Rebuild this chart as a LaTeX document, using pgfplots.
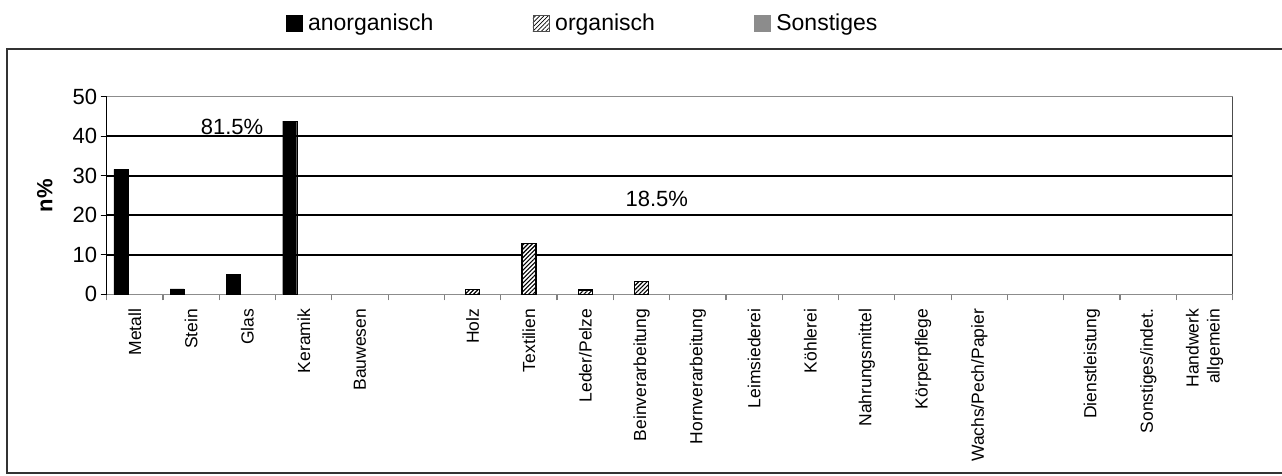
\documentclass[border=0pt]{standalone}
\usepackage{fontspec}
\setmainfont{Liberation Sans}
\usepackage{pgfplots}
\pgfplotsset{compat=1.18}
\usetikzlibrary{patterns.meta}

\begin{document}
\begin{tikzpicture}[x=1pt,y=1pt]
\useasboundingbox (0,0) rectangle (1282,475);
\draw[line width=2pt, black!80] (7.3,426) rectangle (1300,2.5);
\begin{axis}[
  at={(106.7pt,180.7pt)}, anchor=south west,
  width=1126pt, height=197.6pt, scale only axis,
  xmin=-0.5, xmax=19.5, ymin=0, ymax=50,
  axis x line*=bottom, axis y line*=left,
  x axis line style={black!45, line width=1.5pt},
  y axis line style={black, line width=1.5pt},
  xtick={0,...,19},
  xticklabels={Metall,Stein,Glas,Keramik,Bauwesen,{},Holz,Textilien,Leder/Pelze,Beinverarbeitung,Hornverarbeitung,Leimsiederei,K\"ohlerei,Nahrungsmittel,K\"orperpflege,Wachs/Pech/Papier,{},Dienstleistung,Sonstiges/indet.,{Handwerk\\allgemein}},
  major x tick style={draw=none},
  minor xtick={-0.5,0.5,...,19.5},
  minor x tick style={black!50, line width=1.2pt},
  minor tick length=6pt,
  xtick align=outside,
  xticklabel style={rotate=90, anchor=east, align=right, font=\fontsize{17.5}{21}\selectfont, xshift=-5pt},
  ytick={0,10,...,50},
  ytick align=outside,
  major y tick style={black, line width=1.2pt},
  major tick length=6pt,
  yticklabel style={font=\fontsize{22}{26}\selectfont},
  /pgf/number format/assume math mode=true,
  extra y ticks={10,20,30,40},
  extra y tick labels={},
  extra y tick style={grid=major, major grid style={black, line width=1.6pt}},
  ylabel={n\%},
  ylabel style={at={(rel axis cs:-0.055,0.5)}, anchor=center, rotate=0, font=\bfseries\fontsize{22}{26}\selectfont},
  legend style={at={(rel axis cs:0.4226,1.373)}, anchor=center, draw=none, fill=none,
    font=\fontsize{23}{27}\selectfont, legend columns=3,
    /tikz/every odd column/.append style={column sep=4pt},
    /tikz/every even column/.append style={column sep=97pt},
    legend cell align=left},
  legend image code/.code={\draw[#1] (0pt,-8pt) rectangle (16pt,8pt);},
  clip=false,
]
\addplot[ybar, forget plot, bar width=14pt, bar shift=-14pt, fill=black, draw=black]
  coordinates {(0,31.6) (1,1.35) (2,5.05) (3,43.8)};
\addplot[ybar, forget plot, bar width=14pt, bar shift=0pt, draw=black, line width=1.2pt, fill=white,
  postaction={pattern={Lines[angle=45,distance=3pt,line width=1.1pt]}}]
  coordinates {(6,1.3) (7,12.9) (8,1.1) (9,3.2)};
\addplot[ybar, forget plot, bar width=14pt, bar shift=14pt, fill=black!45, draw=black!45]
  coordinates {(17,0) (18,0) (19,0)};
\addlegendimage{fill=black, draw=black}
\addlegendentry{anorganisch}
\addlegendimage{fill=white, draw=black!70, line width=0.6pt, postaction={pattern={Lines[angle=45,distance=3pt,line width=0.8pt]}}}
\addlegendentry{organisch}
\addlegendimage{fill=black!45, draw=black!45}
\addlegendentry{Sonstiges}
\draw[black!45, line width=1.5pt] (rel axis cs:0,1) -- (rel axis cs:1,1);
\draw[black!70, line width=1.5pt] (rel axis cs:1,1) -- (rel axis cs:1,0);
\node[font=\fontsize{22}{26}\selectfont] at (axis cs:1.726,42.4) {81.5\%};
\node[font=\fontsize{22}{26}\selectfont] at (axis cs:9.27,24.1) {18.5\%};
\end{axis}
\end{tikzpicture}
\end{document}
